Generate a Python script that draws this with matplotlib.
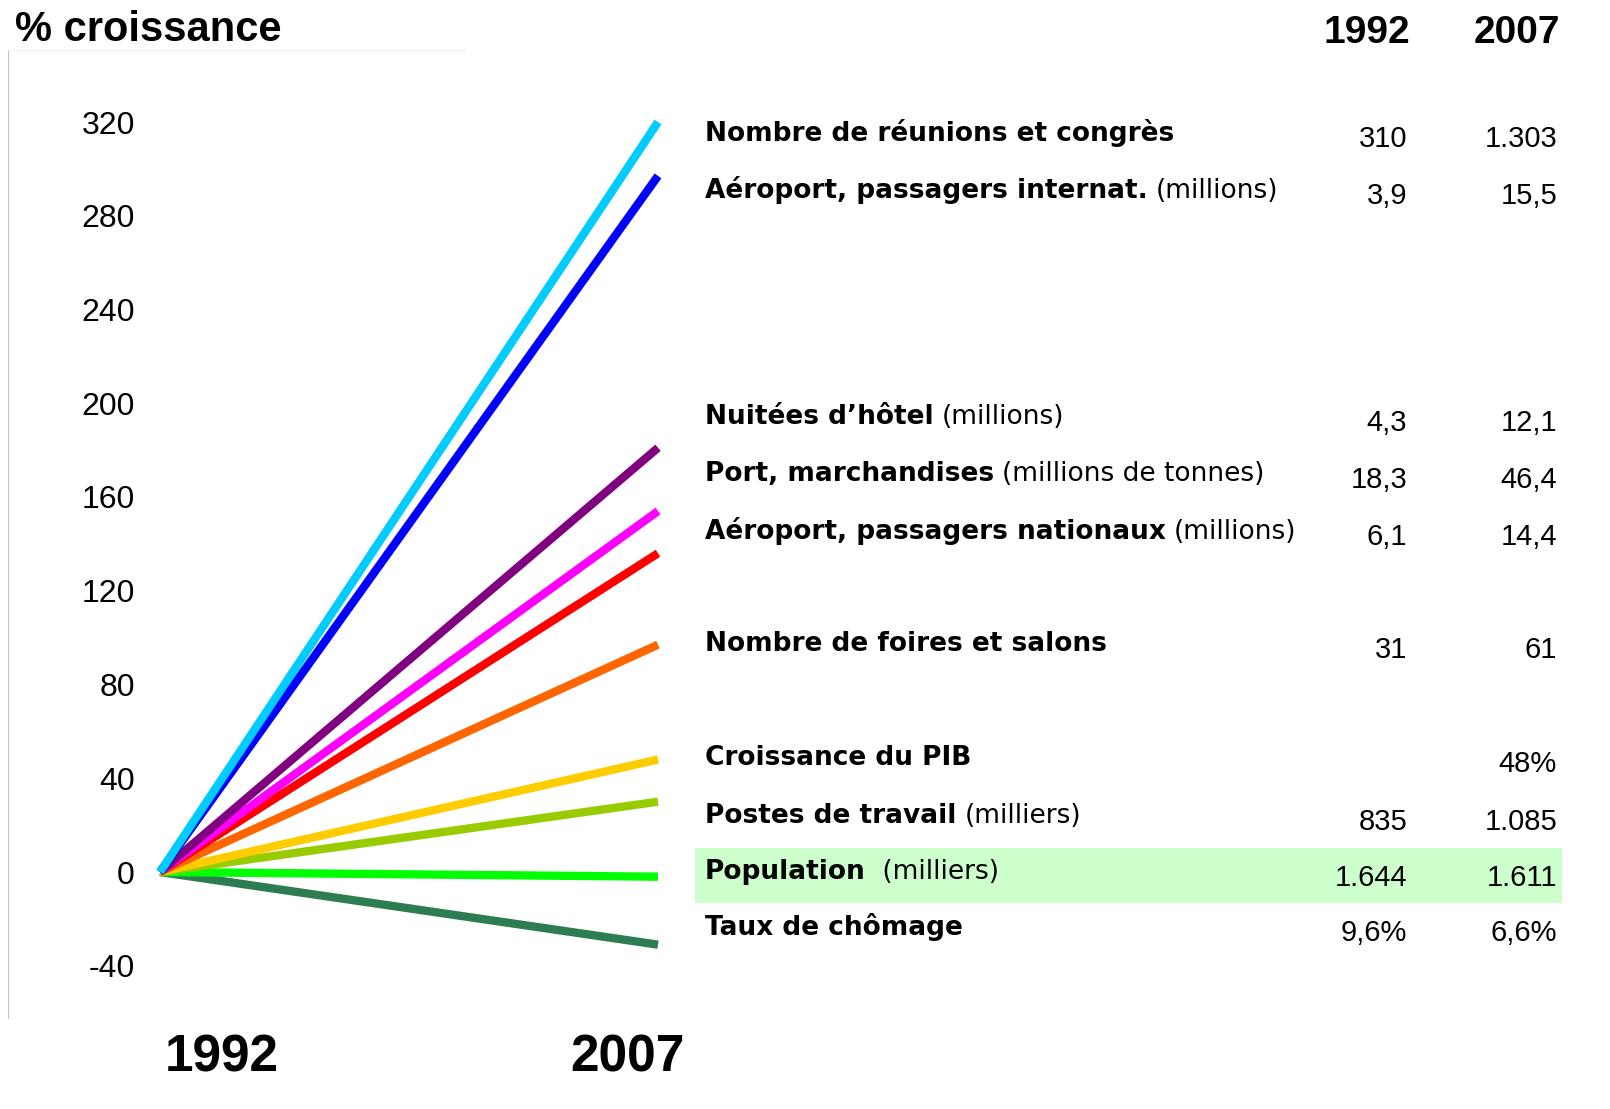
import numpy as np
import matplotlib.pyplot as plt

# donnees
annees = [1992, 2007]
croissance = [320, 297, 181, 154, 136, 97, 48, 30, -2, -31]
couleurs = ['#00CCFF', '#0000FF', '#800080', '#FF00FF', '#FF0000',
            '#FF6600', '#FFCC00', '#99CC00', '#00FF00', '#2E7D52']

libelles = ['Nombre de réunions et congrès', 'Aéroport, passagers internat.',
            'Nuitées d\u2019hôtel', 'Port, marchandises',
            'Aéroport, passagers nationaux', 'Nombre de foires et salons',
            'Croissance du PIB', 'Postes de travail', 'Population',
            'Taux de chômage']
unites = ['', '(millions)', '(millions)', '(millions de tonnes)', '(millions)',
          '', '', '(milliers)', ' (milliers)', '']
val_1992 = ['310', '3,9', '4,3', '18,3', '6,1', '31', '', '835', '1.644', '9,6%']
val_2007 = ['1.303', '15,5', '12,1', '46,4', '14,4', '61', '48%', '1.085', '1.611', '6,6%']
ligne_y = [133, 190, 417, 474, 531, 644, 758, 816, 872, 927]   # pixels

yticks = np.arange(-40, 321, 40)

W, H = 1610, 1109
fig = plt.figure(figsize=(W / 100, H / 100), dpi=100)

def fx(p):
    return p / W

def fy(p):
    return 1 - p / H

# axes du graphique
ax = fig.add_axes([fx(8), fy(1018), fx(700) - fx(8), fy(50) - fy(1018)])
ppy = 498 / 15
ax.set_xlim(1992 - 152 / ppy, 2007 + 42 / ppy)
upp = 320 / 750
ax.set_ylim(-(1018 - 872) * upp, (872 - 50) * upp)

for c, col in reversed(list(zip(croissance, couleurs))):
    ax.plot(annees, [0, c], color=col, lw=6, solid_capstyle='butt')

ax.set_yticks(yticks)
ax.set_yticklabels([str(t) for t in yticks], fontsize=23, family='Liberation Sans')
ax.tick_params(axis='y', length=0, pad=-(135 - 8) * 0.72)
ax.set_xticks([])
for s in ['right', 'bottom']:
    ax.spines[s].set_visible(False)
ax.spines['left'].set_color('#c0c0c0')
ax.spines['top'].set_color('#eeeeee')
ax.spines['top'].set_bounds(ax.get_xlim()[0], 1992 + (465 - 160) / ppy)

fig.text(fx(15), fy(30), '% croissance', fontsize=30, fontweight='bold',
         family='Liberation Sans', va='center', ha='left')
fig.text(fx(222), fy(1058), '1992', fontsize=37, fontweight='bold',
         family='Liberation Sans', va='center', ha='center')
fig.text(fx(627), fy(1058), '2007', fontsize=37, fontweight='bold',
         family='Liberation Sans', va='center', ha='center')
fig.text(fx(1410), fy(33), '1992', fontsize=28, fontweight='bold',
         family='Liberation Sans', va='center', ha='right')
fig.text(fx(1560), fy(33), '2007', fontsize=28, fontweight='bold',
         family='Liberation Sans', va='center', ha='right')

# bande verte Population
fig.patches.append(plt.Rectangle((fx(695), fy(903)), fx(1562) - fx(695),
                                 fy(848) - fy(903), transform=fig.transFigure,
                                 facecolor='#CCFFCC', edgecolor='none', zorder=0))

for lib, u, v1, v2, y in zip(libelles, unites, val_1992, val_2007, ligne_y):
    t = fig.text(fx(705), fy(y), lib, fontsize=19, fontweight='bold',
                 family='DejaVu Sans', va='center', ha='left')
    if u:
        fig.add_artist(plt.Annotation(u, xy=(1, 0), xycoords=t, xytext=(6, 0),
                                      textcoords='offset points', fontsize=19,
                                      family='DejaVu Sans', va='bottom', ha='left'))
    fig.text(fx(1407), fy(y + 6), v1, fontsize=21, family='Liberation Sans',
             va='center', ha='right')
    fig.text(fx(1557), fy(y + 6), v2, fontsize=21, family='Liberation Sans',
             va='center', ha='right')

fig.savefig('out.png', dpi=100)
